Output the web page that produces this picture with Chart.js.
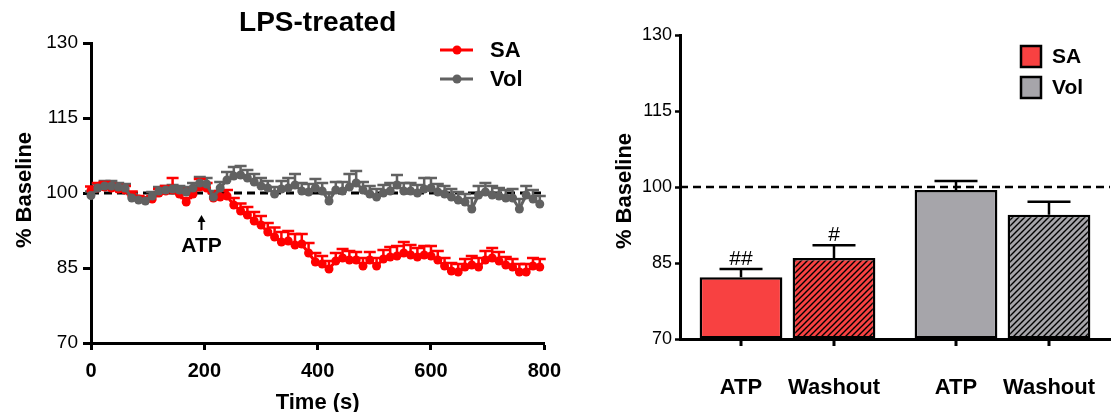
<!DOCTYPE html>
<html><head><meta charset="utf-8">
<script src="https://cdn.jsdelivr.net/npm/chart.js@4/dist/chart.umd.min.js"></script>
<style>
html,body{margin:0;padding:0;background:#fff;width:1114px;height:412px;overflow:hidden}
#w1{position:absolute;left:0;top:0;width:570px;height:412px}
#w2{position:absolute;left:570px;top:0;width:544px;height:412px}
</style></head><body>
<div id="w1"><canvas id="c1"></canvas></div>
<div id="w2"><canvas id="c2"></canvas></div>
<script>
// ---------- data ----------
const timeSec = [0,12,24,36,48,60,72,84,96,108,120,132,144,156,168,180,192,204,216,228,240,252,264,276,288,300,312,324,336,348,360,372,384,396,408,420,432,444,456,468,480,492,504,516,528,540,552,564,576,588,600,612,624,636,648,660,672,684,696,708,720,732,744,756,768,780,792];
const saMean = [100.5,101.0,101.2,101.0,100.8,100.6,99.5,98.8,98.5,98.8,100.0,100.4,100.6,99.8,98.2,99.8,101.2,101.0,99.0,99.2,99.4,97.6,96.4,95.6,94.4,93.6,92.2,91.2,90.2,90.4,89.6,89.8,88.0,86.2,85.8,84.8,86.4,87.0,86.6,86.6,85.4,86.6,85.4,86.8,87.2,87.4,88.0,87.6,87.2,87.6,87.4,86.6,85.4,84.4,84.2,85.2,85.6,85.2,86.6,87.0,86.4,85.6,85.2,84.2,84.2,85.4,85.2];
const saSem = [0.8,1.0,1.0,0.8,0.8,0.8,0.8,0.6,0.6,0.6,0.8,1.0,2.4,1.0,0.8,1.0,1.6,1.0,1.0,1.2,1.2,1.4,1.5,1.6,1.8,1.8,1.8,1.9,2.0,2.0,2.2,2.0,2.0,1.8,1.6,1.6,1.6,1.8,1.8,1.6,1.6,1.6,1.6,1.8,2.0,2.0,2.2,2.0,1.8,1.8,2.0,1.8,1.6,1.6,1.6,1.6,1.8,1.8,1.8,2.0,1.8,1.6,1.6,1.6,1.6,1.6,1.6];
const volMean = [99.5,101.0,101.4,101.4,101.2,101.0,99.0,98.6,98.4,99.4,100.4,100.6,100.8,100.6,100.2,101.0,102.0,101.8,99.2,101.0,102.6,103.4,103.6,103.0,102.2,101.4,101.0,99.8,100.8,101.0,101.6,100.4,100.2,101.0,100.4,98.4,100.6,100.4,101.2,102.0,100.6,99.8,99.2,100.0,100.4,101.6,100.4,100.4,100.0,100.8,101.0,100.2,99.8,99.2,98.6,98.2,96.8,99.6,100.2,99.6,99.4,99.0,99.0,96.8,99.6,98.8,97.8];
const volSem = [0.8,0.8,1.0,1.0,0.8,0.8,0.8,0.6,0.6,0.8,0.8,0.8,0.8,0.8,1.0,1.0,1.2,1.2,1.2,1.2,1.6,1.8,1.8,1.6,1.6,1.6,1.4,1.4,1.6,2.0,2.2,1.6,1.6,1.8,1.6,1.6,1.6,1.8,2.6,2.4,1.6,1.6,1.6,1.6,1.6,2.0,1.6,1.6,1.6,2.2,2.0,1.6,1.6,1.6,1.6,1.6,2.2,1.8,1.8,1.8,1.6,1.6,1.8,2.0,1.8,1.8,1.6];
const seriesNames = ['SA','Vol'];
const timeTicks = [0,200,400,600,800];
const pctTicks = [70,85,100,115,130];
const baselinePct = 100;
const atpTime = 195;
const leftTitle = 'LPS-treated';

const barGroups = ['SA','Vol'];
const conditions = ['ATP','Washout'];
const atpMean = [82.2, 99.4];
const atpSem = [1.6, 1.8];
const washMean = [86.0, 94.5];
const washSem = [2.5, 2.6];
const atpSig = ['##',''];
const washSig = ['#',''];

// ---------- styles ----------
const F = '"Liberation Sans", Arial, sans-serif';
const RED_L = '#ff0000', GREY_L = '#616161';
const RED_B = '#f84141', GREY_B = '#a6a5aa';

function hatch(bg){
  const s = 6, c = document.createElement('canvas'); c.width = s; c.height = s;
  const g = c.getContext('2d');
  g.fillStyle = bg; g.fillRect(0,0,s,s);
  g.strokeStyle = '#000'; g.lineWidth = 1.4;
  g.beginPath();
  g.moveTo(-1,s+1); g.lineTo(s+1,-1);
  g.moveTo(-1,1); g.lineTo(1,-1);
  g.moveTo(s-1,s+1); g.lineTo(s+1,s-1);
  g.stroke();
  return g.createPattern(c,'repeat');
}

function dashedAt(ctx, a, yy, w){
  ctx.save(); ctx.setLineDash([8,5]); ctx.lineWidth = w; ctx.strokeStyle = '#000';
  ctx.beginPath(); ctx.moveTo(a.left, yy); ctx.lineTo(a.right, yy); ctx.stroke(); ctx.restore();
}
function vText(ctx, txt, x, y, font){
  ctx.save(); ctx.translate(x,y); ctx.rotate(-Math.PI/2);
  ctx.font = font; ctx.fillStyle = '#000'; ctx.textAlign = 'center'; ctx.textBaseline = 'middle';
  ctx.fillText(txt, 0, 0); ctx.restore();
}

// ---------- left chart ----------
const leftDeco = {
  id: 'leftDeco',
  beforeDatasetsDraw(chart){
    const {ctx, chartArea: a, scales: {y}} = chart;
    dashedAt(ctx, a, y.getPixelForValue(baselinePct), 3);
    chart.data.datasets.forEach((ds, di) => {
      const meta = chart.getDatasetMeta(di);
      ctx.save(); ctx.strokeStyle = ds.borderColor; ctx.lineWidth = 2.5;
      meta.data.forEach((pt, i) => {
        const top = y.getPixelForValue(ds.data[i].y + ds.sem[i]);
        ctx.beginPath();
        ctx.moveTo(pt.x, pt.y); ctx.lineTo(pt.x, top);
        ctx.moveTo(pt.x - 6, top); ctx.lineTo(pt.x + 6, top);
        ctx.stroke();
      });
      ctx.restore();
    });
  },
  afterDraw(chart){
    const {ctx, chartArea: a, scales: {x}} = chart;
    ctx.save();
    ctx.fillStyle = '#000';
    ctx.font = 'bold 28px ' + F; ctx.textAlign = 'center'; ctx.textBaseline = 'middle';
    ctx.fillText(leftTitle, (a.left + a.right)/2, 23);
    ctx.font = 'bold 22px ' + F;
    ctx.fillText('Time (s)', (a.left + a.right)/2, 403);
    vText(ctx, '% Baseline', 25, 190, 'bold 22px ' + F);
    const legY = [50, 79];
    const legCol = [RED_L, GREY_L];
    seriesNames.forEach((n, i) => {
      ctx.strokeStyle = legCol[i]; ctx.fillStyle = legCol[i]; ctx.lineWidth = 3;
      ctx.beginPath(); ctx.moveTo(440, legY[i]); ctx.lineTo(473, legY[i]); ctx.stroke();
      ctx.beginPath(); ctx.arc(457, legY[i], 4.5, 0, Math.PI*2); ctx.fill();
      ctx.fillStyle = '#000'; ctx.font = 'bold 22px ' + F; ctx.textAlign = 'left';
      ctx.fillText(n, 490, legY[i] + 1);
    });
    const ax = x.getPixelForValue(atpTime);
    ctx.strokeStyle = '#000'; ctx.fillStyle = '#000'; ctx.lineWidth = 2;
    ctx.beginPath(); ctx.moveTo(ax, 230); ctx.lineTo(ax, 219); ctx.stroke();
    ctx.beginPath(); ctx.moveTo(ax, 215); ctx.lineTo(ax - 4, 222); ctx.lineTo(ax + 4, 222); ctx.closePath(); ctx.fill();
    ctx.font = 'bold 21px ' + F; ctx.textAlign = 'center'; ctx.textBaseline = 'middle';
    ctx.fillText('ATP', ax, 246);
    ctx.restore();
  }
};

function mkLine(name, means, sems, col){
  return {
    label: name,
    data: timeSec.map((t, i) => ({x: t, y: means[i]})),
    sem: sems,
    borderColor: col, backgroundColor: col,
    pointRadius: 4.5, pointBorderWidth: 0, pointHoverRadius: 4.5,
    borderWidth: 3, tension: 0, clip: false
  };
}

new Chart(document.getElementById('c1'), {
  type: 'line',
  data: { datasets: [
    mkLine(seriesNames[1], volMean, volSem, GREY_L),
    mkLine(seriesNames[0], saMean, saSem, RED_L)
  ]},
  options: {
    responsive: true, maintainAspectRatio: false, animation: false, devicePixelRatio: 1,
    layout: { padding: { top: 43, right: 25, left: 0, bottom: 0 } },
    plugins: { legend: { display: false }, tooltip: { enabled: false } },
    scales: {
      x: {
        type: 'linear', min: 0, max: 800,
        afterBuildTicks(a){ a.ticks = timeTicks.map(v => ({value: v})); },
        ticks: { font: { family: F, size: 20, weight: 'bold' }, color: '#000', padding: 9, maxRotation: 0 },
        grid: { display: true, drawOnChartArea: false, tickLength: 7, tickWidth: 3, tickColor: '#000' },
        border: { color: '#000', width: 3 },
        afterFit(a){ a.height = 69; }
      },
      y: {
        min: 70, max: 130,
        afterBuildTicks(a){ a.ticks = pctTicks.map(v => ({value: v})); },
        ticks: { font: { family: F, size: 19 }, color: '#000', padding: 5 },
        grid: { display: true, drawOnChartArea: false, tickLength: 8, tickWidth: 3, tickColor: '#000' },
        border: { color: '#000', width: 3 },
        afterFit(a){ a.width = 91; }
      }
    }
  },
  plugins: [leftDeco]
});

// ---------- right chart ----------
const rightDeco = {
  id: 'rightDeco',
  afterDatasetsDraw(chart){
    const {ctx, chartArea: a, scales: {x, y}} = chart;
    dashedAt(ctx, a, y.getPixelForValue(baselinePct), 2.5);
    ctx.save();
    chart.data.datasets.forEach((ds, di) => {
      const meta = chart.getDatasetMeta(di);
      meta.data.forEach((bar, i) => {
        const top = y.getPixelForValue(ds.data[i] + ds.sem[i]);
        ctx.strokeStyle = '#000'; ctx.lineWidth = 2.5;
        ctx.beginPath();
        ctx.moveTo(bar.x, bar.y); ctx.lineTo(bar.x, top);
        ctx.moveTo(bar.x - 21.5, top); ctx.lineTo(bar.x + 21.5, top);
        ctx.stroke();
        if (ds.sig[i]) {
          ctx.fillStyle = '#000'; ctx.font = '21px ' + F; ctx.textAlign = 'center'; ctx.textBaseline = 'alphabetic';
          ctx.fillText(ds.sig[i], bar.x, top - 4);
        }
        ctx.beginPath(); ctx.lineWidth = 3;
        ctx.moveTo(bar.x, a.bottom); ctx.lineTo(bar.x, a.bottom + 7); ctx.stroke();
        ctx.fillStyle = '#000'; ctx.font = 'bold 22px ' + F; ctx.textAlign = 'center'; ctx.textBaseline = 'middle';
        ctx.fillText(ds.label, bar.x, 388);
      });
    });
    ctx.restore();
  },
  afterDraw(chart){
    const {ctx} = chart;
    ctx.save();
    vText(ctx, '% Baseline', 55, 191, 'bold 22px ' + F);
    const sq = [RED_B, GREY_B];
    const cy = [56.5, 87.5];
    barGroups.forEach((g, i) => {
      ctx.fillStyle = sq[i]; ctx.fillRect(451, cy[i] - 10.5, 20, 21);
      ctx.strokeStyle = '#000'; ctx.lineWidth = 2.5; ctx.strokeRect(451, cy[i] - 10.5, 20, 21);
      ctx.fillStyle = '#000'; ctx.font = 'bold 21px ' + F; ctx.textAlign = 'left'; ctx.textBaseline = 'middle';
      ctx.fillText(g, 482, cy[i] + 1);
    });
    ctx.restore();
  }
};

new Chart(document.getElementById('c2'), {
  type: 'bar',
  data: {
    labels: barGroups,
    datasets: [
      { label: conditions[0], data: atpMean, sem: atpSem, sig: atpSig,
        backgroundColor: [RED_B, GREY_B], borderColor: '#000', borderWidth: 2.5, borderSkipped: false,
        base: 70, categoryPercentage: 0.865, barPercentage: 0.89 },
      { label: conditions[1], data: washMean, sem: washSem, sig: washSig,
        backgroundColor: [hatch(RED_B), hatch(GREY_B)], borderColor: '#000', borderWidth: 2.5, borderSkipped: false,
        base: 70, categoryPercentage: 0.865, barPercentage: 0.89 }
    ]
  },
  options: {
    responsive: true, maintainAspectRatio: false, animation: false, devicePixelRatio: 1,
    layout: { padding: { top: 35, right: 4, left: 0, bottom: 0 } },
    plugins: { legend: { display: false }, tooltip: { enabled: false } },
    scales: {
      x: {
        grid: { display: false },
        border: { display: true, color: '#000', width: 3 },
        ticks: { display: false },
        afterFit(a){ a.height = 73; }
      },
      y: {
        min: 70, max: 130,
        afterBuildTicks(a){ a.ticks = pctTicks.map(v => ({value: v})); },
        ticks: { font: { family: F, size: 18 }, color: '#000', padding: 3 },
        grid: { display: true, drawOnChartArea: false, tickLength: 5, tickWidth: 2.5, tickColor: '#000' },
        border: { color: '#000', width: 3 },
        afterFit(a){ a.width = 110; }
      }
    }
  },
  plugins: [rightDeco]
});
</script>
</body></html>
